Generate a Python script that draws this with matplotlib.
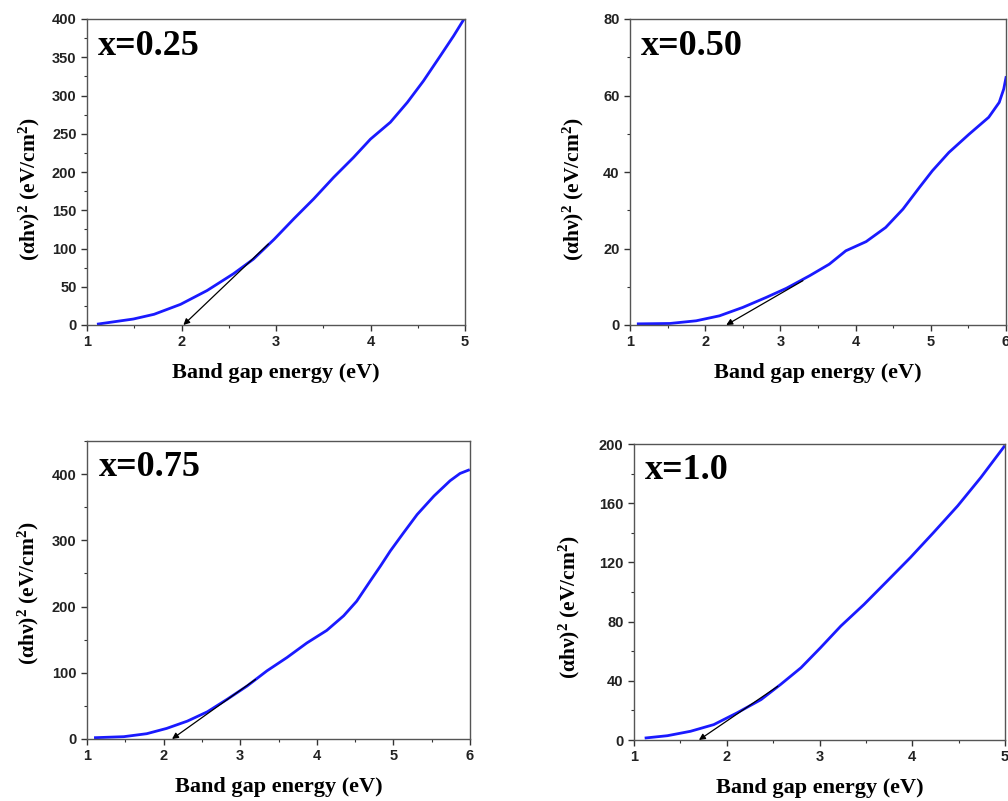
import matplotlib
matplotlib.use("Agg")
import matplotlib.pyplot as plt
from matplotlib.ticker import MultipleLocator

# ---- data ----
x1 = [1.12, 1.49, 1.71, 1.99, 2.27, 2.55, 2.76, 2.98, 3.19, 3.40, 3.61, 3.82, 4.00,
      4.21, 4.39, 4.56, 4.74, 4.88, 4.99]
y1 = [1.3, 7.8, 14, 27, 45, 67, 86, 112, 139, 165, 193, 219, 243,
      265, 291, 319, 352, 378, 400]

x2 = [1.11, 1.53, 1.88, 2.19, 2.50, 2.81, 3.08, 3.39, 3.65, 3.87, 4.14, 4.40, 4.63,
      4.85, 5.02, 5.24, 5.51, 5.77, 5.91, 5.97, 6.0]
y2 = [0.3, 0.4, 1.1, 2.4, 4.6, 7.2, 9.6, 12.9, 15.9, 19.4, 21.8, 25.5, 30.3,
      36.0, 40.3, 45.1, 49.9, 54.3, 58.2, 61.7, 64.7]

x3 = [1.11, 1.48, 1.78, 2.04, 2.31, 2.57, 2.83, 3.09, 3.35, 3.61, 3.87, 4.13, 4.35,
      4.52, 4.70, 4.83, 4.96, 5.13, 5.31, 5.53, 5.74, 5.87, 5.98]
y3 = [2, 3.5, 8, 16, 27, 41, 60, 80, 103, 123, 145, 164, 186,
      208, 239, 261, 284, 311, 339, 367, 390, 401, 406]

x4 = [1.13, 1.36, 1.61, 1.86, 2.11, 2.37, 2.58, 2.80, 3.01, 3.23, 3.48, 3.73, 3.98,
      4.23, 4.49, 4.74, 4.99]
y4 = [1.4, 2.9, 5.9, 10.4, 18.3, 27.3, 37.5, 48.8, 62.3, 77, 91.6, 107.4, 123.3,
      140.2, 158.2, 177.4, 198.2]

labels = ["x=0.25", "x=0.50", "x=0.75", "x=1.0"]
xlims = [(1, 5), (1, 6), (1, 6), (1, 5)]
ylims = [(0, 400), (0, 80), (0, 450), (0, 200)]
ymajor = [50, 20, 100, 40]
yminor = [25, 10, 50, 20]
# tangent lines: (start x, start y) -> (intercept x, 0)
tangents = [((2.92, 106), (2.02, 0)), ((3.30, 11.6), (2.28, 0)),
            ((3.20, 90), (2.11, 0)), ((2.55, 36.3), (1.70, 0))]

xs = [x1, x2, x3, x4]
ys = [y1, y2, y3, y4]

plt.rcParams["mathtext.fontset"] = "custom"
plt.rcParams["mathtext.rm"] = "Liberation Serif:bold"
plt.rcParams["mathtext.bf"] = "Liberation Serif:bold"
plt.rcParams["mathtext.default"] = "rm"

W, H = 1008, 801
fig = plt.figure(figsize=(W / 100, H / 100), dpi=100)

boxes = [(87, 465, 19, 325), (630, 1006, 19, 325), (87, 470, 441, 739), (634, 1005, 444, 740)]
ylabel_pos = [(-0.12, 0.445), (-0.117, 0.445), (-0.12, 0.49), (-0.14, 0.45)]

serif = "Liberation Serif"
sans = "Liberation Sans"

for i, (l, r, t, b) in enumerate(boxes):
    ax = fig.add_axes([l / W, 1 - b / H, (r - l) / W, (b - t) / H])
    ax.plot(xs[i], ys[i], color="#1a1aff", lw=2.0, solid_joinstyle="round")
    (sx, sy), (ex, ey) = tangents[i]
    ax.annotate("", xy=(ex, ey), xytext=(sx, sy),
                arrowprops=dict(arrowstyle="-|>", color="black", lw=0.9,
                                mutation_scale=9, shrinkA=0, shrinkB=0))
    ax.set_xlim(*xlims[i])
    ax.set_ylim(*ylims[i])
    ax.xaxis.set_major_locator(MultipleLocator(1))
    ax.xaxis.set_minor_locator(MultipleLocator(0.5))
    ax.yaxis.set_major_locator(MultipleLocator(ymajor[i]))
    ax.yaxis.set_minor_locator(MultipleLocator(yminor[i]))
    ax.tick_params(which="both", direction="out", top=False, right=False, color="#333333")
    ax.tick_params(which="major", length=4, width=1)
    ax.tick_params(which="minor", length=2.5, width=0.8)
    for lab in ax.get_xticklabels() + ax.get_yticklabels():
        lab.set_fontfamily(sans)
        lab.set_fontweight("bold")
        lab.set_fontsize(10.5)
        lab.set_color("#222222")
    for sp in ax.spines.values():
        sp.set_color("#555555")
        sp.set_linewidth(1.0)
    ax.set_xlabel("Band gap energy (eV)", fontfamily=serif, fontweight="bold",
                  fontsize=16, labelpad=10)
    ax.set_ylabel(r"($\alpha$h$\nu$)$^2$ (eV/cm$^2$)", fontfamily=serif, fontweight="bold",
                  fontsize=15.5)
    ax.yaxis.set_label_coords(*ylabel_pos[i])
    ax.text(0.03, 0.965, labels[i], transform=ax.transAxes, ha="left", va="top",
            fontfamily=serif, fontweight="bold", fontsize=26)

fig.savefig("out.png", dpi=100, facecolor="white")
